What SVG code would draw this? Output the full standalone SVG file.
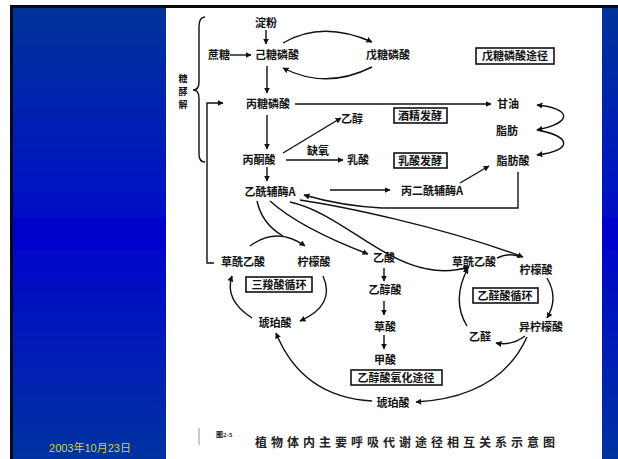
<svg xmlns="http://www.w3.org/2000/svg" width="618" height="459" viewBox="0 0 618 459">
<defs>
<linearGradient id="bg" x1="0" y1="0" x2="0" y2="1">
<stop offset="0" stop-color="#003399"/>
<stop offset="0.46" stop-color="#000fc6"/>
<stop offset="0.47" stop-color="#0000cc"/>
<stop offset="0.53" stop-color="#0000cc"/>
<stop offset="0.54" stop-color="#0008c8"/>
<stop offset="1" stop-color="#0033a0"/>
</linearGradient>
<marker id="ah" viewBox="0 0 10 10" refX="9" refY="5" markerWidth="6" markerHeight="6" orient="auto-start-reverse" markerUnits="userSpaceOnUse">
<path d="M0,0 L10,5 L0,10 Z" fill="#111"/>
</marker>
<style>
.t{font-family:"Noto Sans CJK SC","Noto Sans CJK JP",sans-serif;font-size:11px;font-weight:bold;fill:#111;text-anchor:middle}
.v{font-size:9px}
.bx{fill:#fff;stroke:#111;stroke-width:1.6}
.c{fill:none;stroke:#111;stroke-width:1.4}
.a{fill:none;stroke:#111;stroke-width:1.4;marker-end:url(#ah)}
</style>
</defs>
<rect x="0" y="0" width="618" height="459" fill="#fff"/>
<rect x="13" y="8" width="605" height="451" fill="url(#bg)"/>
<rect x="10" y="5" width="608" height="3" fill="#0a0a14"/>
<rect x="10" y="5" width="3" height="454" fill="#0a0a14"/>
<rect x="166" y="8" width="436" height="451" fill="#fff"/>
<text x="90" y="452" style="font-family:'Liberation Sans','Noto Sans CJK SC',sans-serif;font-size:11px;fill:#d2d23a;text-anchor:middle">2003年10月23日</text>

<g id="connectors">
<path class="a" d="M266,30 L266,44"/>
<path class="a" d="M230,55 L251,55"/>
<path class="a" d="M283,43 Q322,20 372,42"/>
<path class="a" d="M372,67 Q326,90 283,68"/>
<path class="a" d="M267,66 L267,93"/>
<path class="c" d="M205,17 Q199,17 199,27 L199,82 Q199,90 193,90 Q199,90 199,98 L199,154 Q199,162 205,162"/>
<path class="a" d="M214,263 H207 V103 H223"/>
<path class="a" d="M295,104 L491,104"/>
<path class="a" d="M267,115 L267,149"/>
<path class="a" d="M283,153 L341,118"/>
<path class="a" d="M286,160 L343,160"/>
<path class="a" d="M267,167 L267,181"/>
<path class="a" d="M330,190 L390,190"/>
<path class="a" d="M460,183 L489,166"/>
<path class="c" d="M537,105 C570,108 575,122 537,130" style="marker-start:url(#ah);marker-end:url(#ah)"/>
<path class="a" d="M537,130 C570,136 575,150 537,155"/>
<path class="a" d="M518,172 V208 H382 Q342,206 304,195"/>
<path class="a" d="M300,200 C340,206 440,226 523,257"/>
<path class="a" d="M290,202 C350,215 400,288 469,267"/>
<path class="a" d="M270,201 Q300,228 368,254"/>
<path class="c" d="M257,201 Q262,224 283,236"/>
<path class="a" d="M250,246 Q277,226 305,246"/>
<path class="a" d="M323,276 Q336,305 300,321"/>
<path class="a" d="M252,318 Q224,300 232,276"/>
<path class="a" d="M384,268 L384,281"/>
<path class="a" d="M384,301 L384,315"/>
<path class="a" d="M384,335 L384,349"/>
<path class="c" d="M497,258 Q510,252 520,257"/>
<path class="a" d="M547,278 Q559,298 547,318"/>
<path class="a" d="M525,336 Q512,346 496,343"/>
<path class="a" d="M467,326 Q451,300 468,268"/>
<path class="a" d="M527,337 Q500,397 416,402"/>
<path class="a" d="M372,401 Q302,397 276,333"/>
</g>

<g id="n-dianfen"><text class="t" x="266" y="27">淀粉</text></g>
<g id="n-zhetang"><text class="t" x="219" y="59">蔗糖</text></g>
<g id="n-jitang"><text class="t" x="277" y="59">己糖磷酸</text></g>
<g id="n-wutang"><text class="t" x="388" y="59">戊糖磷酸</text></g>
<g id="n-wutang-path"><rect class="bx" x="476" y="48" width="78" height="16"/><text class="t" x="515" y="60">戊糖磷酸途径</text></g>
<g id="n-tangjiaojie"><text class="t v" x="183" y="82">糖</text><text class="t v" x="183" y="95">酵</text><text class="t v" x="183" y="108">解</text></g>
<g id="n-bingtang"><text class="t" x="268" y="108">丙糖磷酸</text></g>
<g id="n-ganyou"><text class="t" x="508" y="108">甘油</text></g>
<g id="n-jiujing"><rect class="bx" x="394" y="108" width="53" height="15"/><text class="t" x="420" y="120">酒精发酵</text></g>
<g id="n-yichun"><text class="t" x="352" y="123">乙醇</text></g>
<g id="n-bingtongsuan"><text class="t" x="259" y="164">丙酮酸</text></g>
<g id="n-queyang"><text class="t" x="318" y="155">缺氧</text></g>
<g id="n-rusuan"><text class="t" x="358" y="164">乳酸</text></g>
<g id="n-rusuanfajiao"><rect class="bx" x="394" y="153" width="53" height="15"/><text class="t" x="420" y="165">乳酸发酵</text></g>
<g id="n-zhifang"><text class="t" x="507" y="135">脂肪</text></g>
<g id="n-zhifangsuan"><text class="t" x="513" y="165">脂肪酸</text></g>
<g id="n-yixian"><text class="t" x="270" y="196">乙酰辅酶A</text></g>
<g id="n-binger"><text class="t" x="432" y="195">丙二酰辅酶A</text></g>
<g id="n-caoxian1"><text class="t" x="243" y="266">草酰乙酸</text></g>
<g id="n-ningmeng1"><text class="t" x="314" y="266">柠檬酸</text></g>
<g id="n-tca"><rect class="bx" x="246" y="277" width="66" height="15"/><text class="t" x="279" y="289">三羧酸循环</text></g>
<g id="n-hupo1"><text class="t" x="275" y="327">琥珀酸</text></g>
<g id="n-yisuan"><text class="t" x="384" y="262">乙酸</text></g>
<g id="n-yichunsuan"><text class="t" x="385" y="294">乙醇酸</text></g>
<g id="n-caosuan"><text class="t" x="385" y="331">草酸</text></g>
<g id="n-jiasuan"><text class="t" x="385" y="364">甲酸</text></g>
<g id="n-glycolate"><rect class="bx" x="351" y="370" width="91" height="15"/><text class="t" x="396" y="382">乙醇酸氧化途径</text></g>
<g id="n-hupo2"><text class="t" x="393" y="407">琥珀酸</text></g>
<g id="n-caoxian2"><text class="t" x="474" y="266">草酰乙酸</text></g>
<g id="n-ningmeng2"><text class="t" x="536" y="274">柠檬酸</text></g>
<g id="n-glyox"><rect class="bx" x="473" y="288" width="65" height="15"/><text class="t" x="505" y="300">乙醛酸循环</text></g>
<g id="n-yiningmeng"><text class="t" x="541" y="331">异柠檬酸</text></g>
<g id="n-yiquan"><text class="t" x="480" y="341">乙醛</text></g>

<g id="caption">
<line x1="199" y1="428" x2="199" y2="445" stroke="#999" stroke-width="1"/>
<text x="216" y="437" style="font-family:'Liberation Serif','Noto Sans CJK SC',serif;font-size:7px;font-weight:bold;fill:#111">图2-5</text>
<text x="407" y="447" style="font-family:'Noto Sans CJK SC',sans-serif;font-size:12px;font-weight:bold;fill:#222;text-anchor:middle;letter-spacing:4px">植物体内主要呼吸代谢途径相互关系示意图</text>
</g>
</svg>
